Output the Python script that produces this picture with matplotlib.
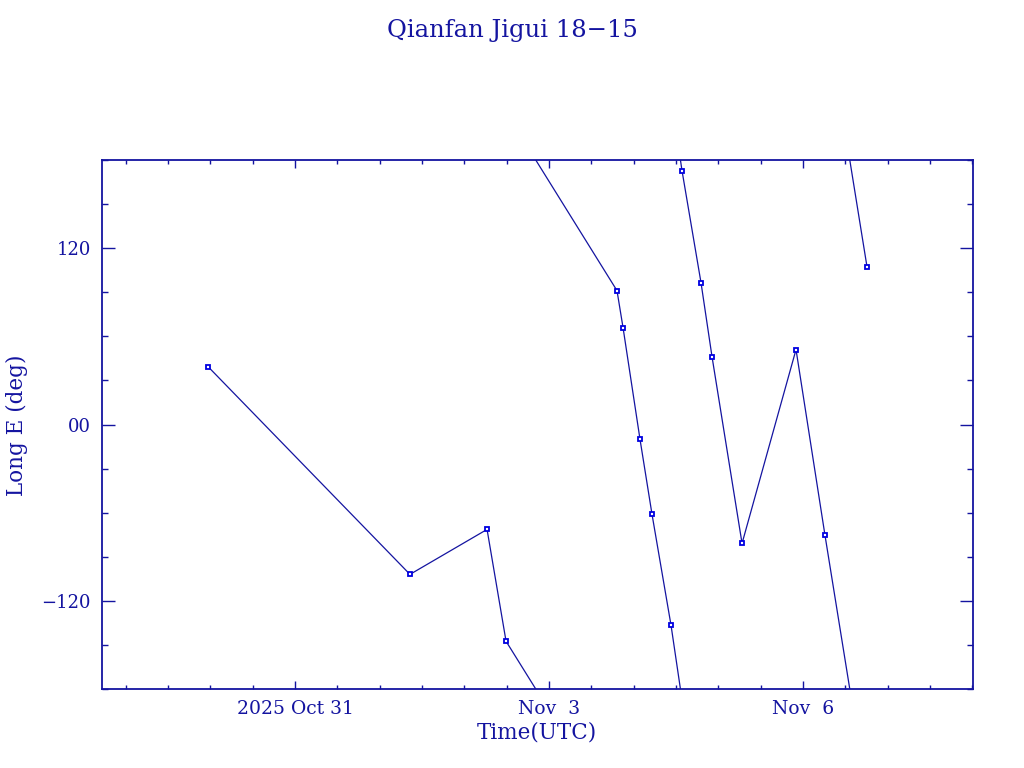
import matplotlib
matplotlib.use("Agg")
import matplotlib.pyplot as plt
import matplotlib.dates as mdates
from matplotlib.ticker import FixedLocator, FixedFormatter, MultipleLocator
import numpy as np
from datetime import datetime

# ---- data ----
times = ["2025-10-29 23:20", "2025-11-01 08:35", "2025-11-02 06:26", "2025-11-02 11:49",
         "2025-11-03 19:16", "2025-11-03 20:59", "2025-11-04 01:48", "2025-11-04 05:12",
         "2025-11-04 10:35", "2025-11-04 13:42", "2025-11-04 19:05", "2025-11-04 22:12",
         "2025-11-05 06:43", "2025-11-05 22:01", "2025-11-06 06:14", "2025-11-06 18:08"]
lon_e = [39.4, -102.0, -71.4, -147.5,
         91.1, 65.9, -10.2, -61.2,
         -136.6, 172.7, 96.5, 46.2,
         -80.9, 51.0, -75.5, 107.4]

xtick_dates = ["2025-10-31", "2025-11-03", "2025-11-06"]
xtick_labels = ["2025 Oct 31", "Nov  3", "Nov  6"]
ytick_values = [-120, 0, 120]
ytick_labels = ["\u2212120", "00", "120"]

title = "Qianfan Jigui 18\u221215"
xlabel = "Time(UTC)"
ylabel = "Long E (deg)"

xlim = ("2025-10-28 17:17", "2025-11-08 00:11")
ylim = (-180, 180)

# ---- styling ----
C_AX = "#1414a0"
C_MK = "#0000e0"
FONT = "DejaVu Serif"

fmt = "%Y-%m-%d %H:%M"
t = mdates.date2num([datetime.strptime(s, fmt) for s in times])
lon = np.array(lon_e)
lon_u = np.unwrap(lon, period=360)

fig = plt.figure(figsize=(10.24, 7.68), dpi=100)
ax = fig.add_axes([102/1024, 1 - 689/768, (973-102)/1024, (689-160)/768])

# draw the track once per 360-degree wrap so that it continues across the edges
for k in range(-4, 5):
    ax.plot(t, lon_u + 360 * k, color=C_AX, lw=0.9, zorder=2)
ax.plot(t, lon, linestyle="none", marker="s", markersize=3.2, mfc="white",
        mec=C_MK, mew=1.3, zorder=3)

ax.set_xlim(mdates.date2num(datetime.strptime(xlim[0], fmt)),
            mdates.date2num(datetime.strptime(xlim[1], fmt)))
ax.set_ylim(*ylim)

xt = mdates.date2num([datetime.strptime(s, "%Y-%m-%d") for s in xtick_dates])
ax.xaxis.set_major_locator(FixedLocator(xt))
ax.xaxis.set_major_formatter(FixedFormatter(xtick_labels))
ax.xaxis.set_minor_locator(MultipleLocator(0.5))
ax.yaxis.set_major_locator(FixedLocator(ytick_values))
ax.yaxis.set_major_formatter(FixedFormatter(ytick_labels))
ax.yaxis.set_minor_locator(MultipleLocator(30))

for s in ax.spines.values():
    s.set_color(C_AX)
    s.set_linewidth(1.3)

ax.tick_params(axis="both", which="both", direction="in", top=True, right=True,
               color=C_AX, labelcolor=C_AX, width=1.0)
ax.tick_params(axis="x", which="major", length=6, pad=8, labelsize=13.5)
ax.tick_params(axis="x", which="minor", length=3)
ax.tick_params(axis="y", which="major", length=9.5, pad=8, labelsize=13)
ax.tick_params(axis="y", which="minor", length=4)
for lab in ax.get_xticklabels() + ax.get_yticklabels():
    lab.set_fontfamily(FONT)

fig.text(0.5, 1 - 30/768, title, ha="center", va="center", color=C_AX,
         fontsize=17.5, family=FONT)
fig.text(537/1024, 1 - 732/768, xlabel, ha="center", va="center", color=C_AX,
         fontsize=15.5, family=FONT)
fig.text(17/1024, 1 - 425/768, ylabel, ha="center", va="center", rotation=90,
         color=C_AX, fontsize=15.5, family=FONT)

fig.savefig("out.png", dpi=100, facecolor="white")
